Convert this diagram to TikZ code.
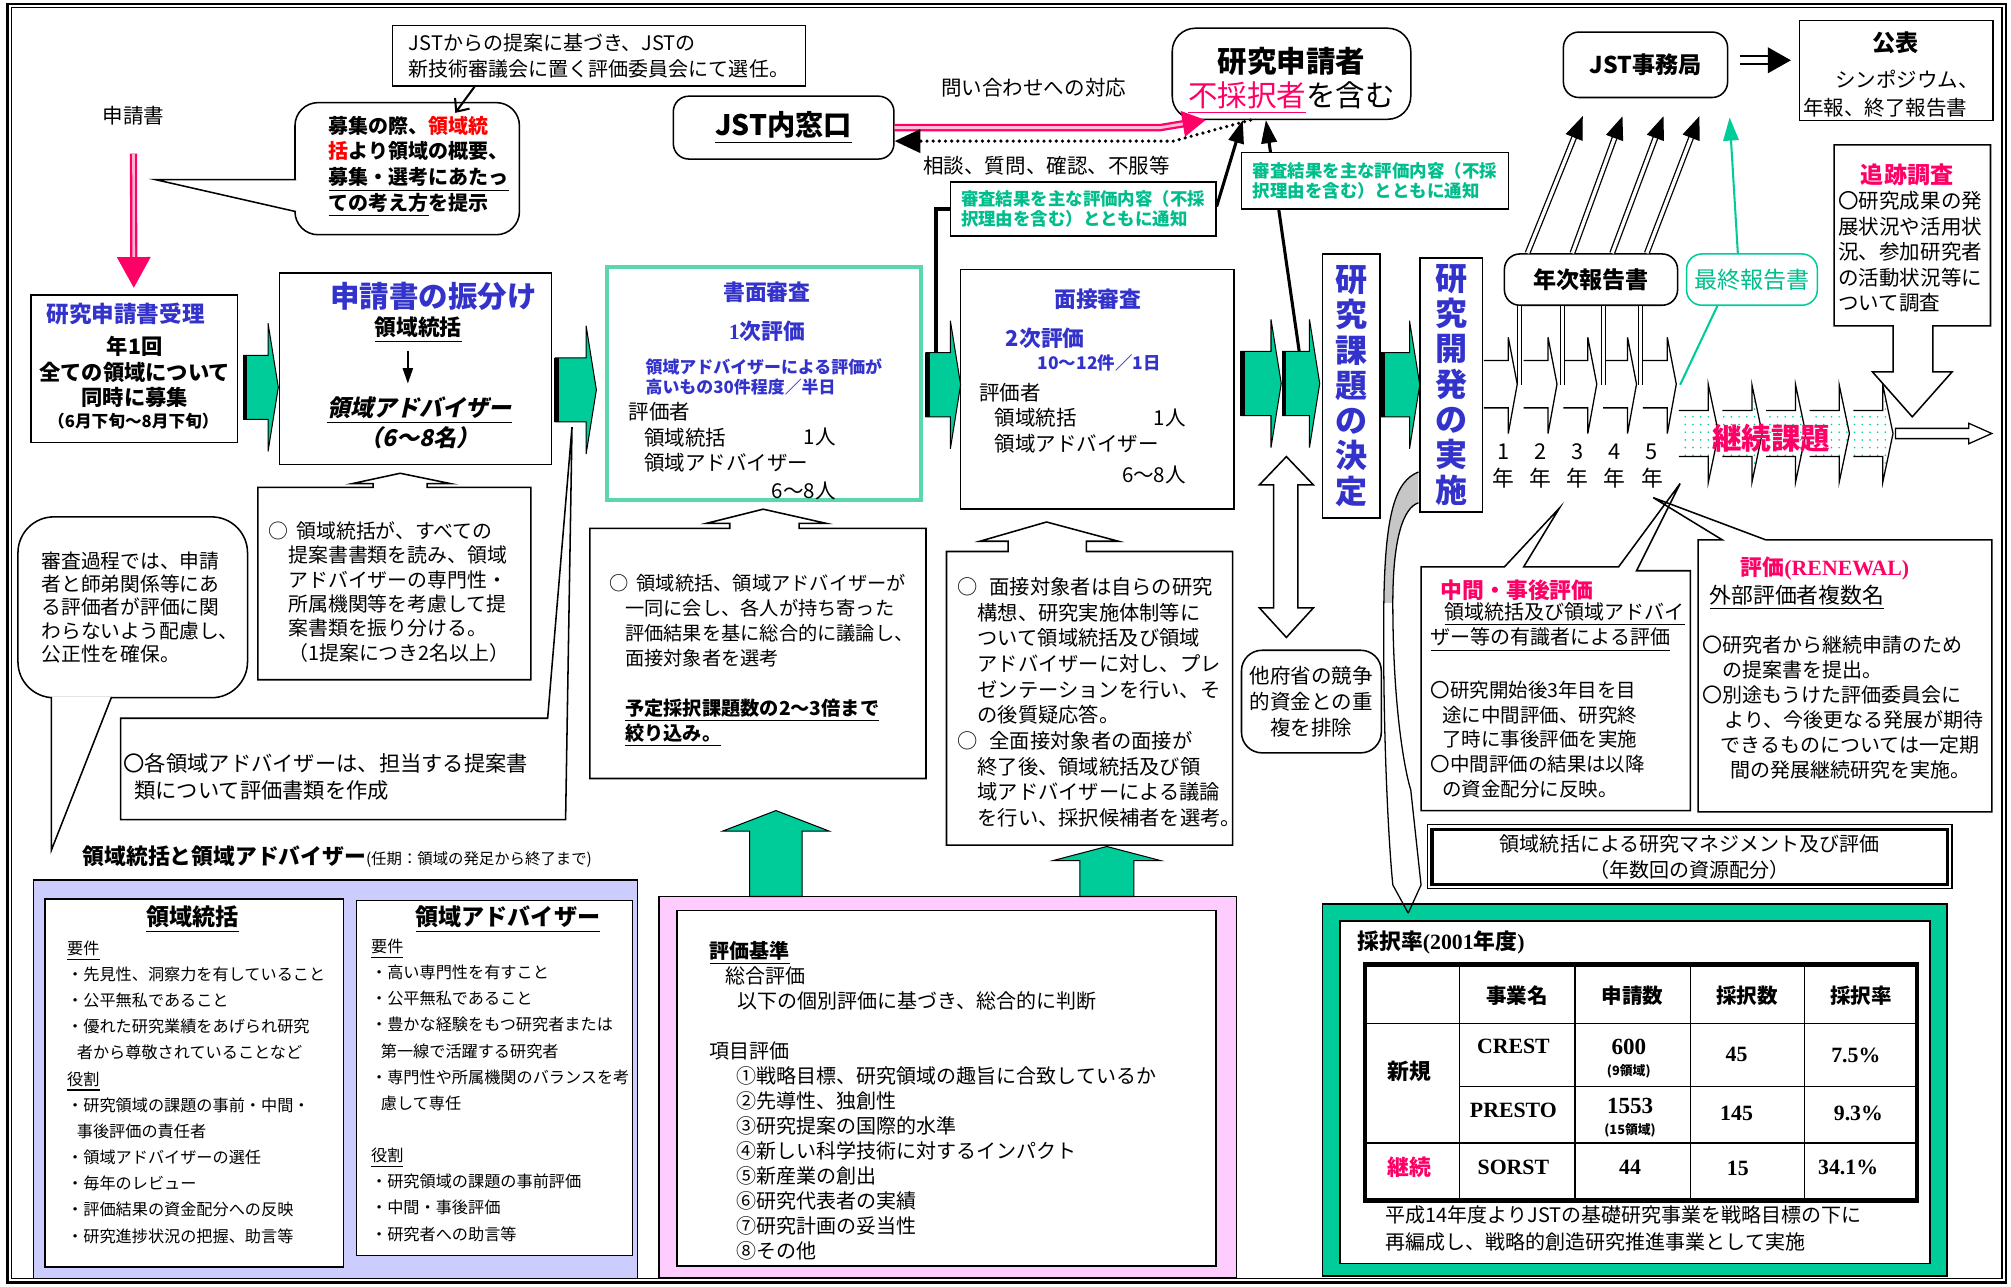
\documentclass[tikz,border=0pt]{standalone}
\usepackage{fontspec}
\setmainfont{Noto Sans CJK JP}
\newfontfamily\slantjp{Noto Sans CJK JP}[FakeSlant=0.22]
\newfontfamily\rmlat{Liberation Serif}
\usetikzlibrary{arrows.meta,patterns.meta}

\definecolor{grn}{RGB}{0,204,153}
\definecolor{tealtxt}{RGB}{0,190,140}
\definecolor{tealbrd}{RGB}{90,215,175}
\definecolor{bluec}{RGB}{51,51,204}
\definecolor{pinkc}{RGB}{255,0,102}
\definecolor{lav}{RGB}{204,204,255}
\definecolor{pinkbg}{RGB}{255,204,255}

\tikzset{
  box/.style={draw, line width=0.6pt, fill=white, inner sep=0pt},
  rbox/.style={box, rounded corners=6pt},
  sz/.style 2 args={minimum width=#1*0.5pt, minimum height=#2*0.5pt},
  txt/.style={inner sep=0pt, align=left, font=\fontsize{8}{9.75}\selectfont},
  ttl/.style={inner sep=0pt, text=bluec, font=\bfseries\fontsize{8.5}{10}\selectfont},
  bld/.style={inner sep=0pt, align=center, font=\bfseries\fontsize{8.5}{10}\selectfont},
  lavtxt/.style={inner sep=0pt, align=left, anchor=west, font=\fontsize{6.3}{10.2}\selectfont},
  numtxt/.style={inner sep=0pt, font=\rmlat\bfseries\fontsize{8.5}{10}\selectfont},
  blk/.style={fill=grn, draw=black, line width=0.4pt},
  wshape/.style={fill=white, draw=black, line width=0.6pt},
  dblarr/.style={double, double distance=1.3pt, line width=0.5pt, -{Triangle[width=7pt,length=9pt]}},
}

% green block arrow to the right: left x, tip x, centre y
\newcommand{\grnarr}[3]{%
  \filldraw[blk] (#1,#3-25) -- (#2-8,#3-25) -- (#2-8,#3-50) -- (#2,#3)
    -- (#2-8,#3+50) -- (#2-8,#3+25) -- (#1,#3+25) -- cycle;
  \draw[line width=1.8pt] (#1+1,#3-25) -- (#1+1,#3+25);}
% green block arrow upwards: centre x, shaft half, head half, tip y, head base y, foot y
\newcommand{\grnup}[6]{%
  \filldraw[blk] (#1-#2,#6) -- (#1-#2,#5) -- (#1-#3,#5) -- (#1,#4)
    -- (#1+#3,#5) -- (#1+#2,#5) -- (#1+#2,#6) -- cycle;}

\begin{document}
\begin{tikzpicture}[x=0.5pt,y=-0.5pt]
\useasboundingbox (0,0) rectangle (1568,1003);
% frame
\draw[line width=1pt] (6,3) rectangle (1564,1000);
\draw[line width=0.5pt] (9,6) rectangle (1561,997);

% bottom panels
\node[draw, fill=lav, line width=0.6pt, sz={471}{311}] (lavBg) at (261.5,841.5) {};
\node[box, sz={233}{287}] (toukatsuBox) at (151.5,844.5) {};
\node[box, sz={215}{277}] (advBox) at (385.5,840.5) {};
\node[draw, fill=pinkbg, line width=0.6pt, sz={450}{297}] (kijunBg) at (739,847.5) {};
\node[box, sz={420}{277}] (kijunBox) at (738,848.5) {};
\node[draw, fill=grn, line width=0.6pt, sz={487}{290}] (saitakuBg) at (1274.5,850) {};
\node[box, sz={460}{267}] (saitakuBox) at (1275,851.5) {};
\grnup{605}{20.5}{41.5}{632}{648}{699}
\grnup{863}{21}{42}{660}{671}{699}

% applications
\node[txt] (appl) at (104,90) {申請書};
\node[box, sz={322}{47}, align=left, font=\fontsize{7.8}{10}\selectfont] (note1) at (467,43.5) {JSTからの提案に基づき、JSTの\\新技術審議会に置く評価委員会にて選任。};
\node[rbox, rounded corners=9pt, sz={175}{103}] (callA) at (317.5,131.5) {};
\filldraw[wshape] (230.8,140) -- (121,140) -- (230.8,165);
\node[bld, align=left, anchor=west, font=\bfseries\fontsize{7.8}{10}\selectfont] (callAtxt) at (256,130) {募集の際、\textcolor{red}{領域統}\\\textcolor{red}{括}より領域の概要、\\\underline{募集・選考にあたっ}\\\underline{ての考え方}を提示};
\coordinate (callAtip) at (355,88);
\draw[line width=0.8pt, -{Straight Barb[width=7pt,length=4pt]}] ([xshift=-48.5pt]note1.south) -- (callAtip);

\node[box, sz={161}{115}] (recv) at (104.5,287.5) {};
\node[ttl, font=\bfseries\fontsize{8.8}{10}\selectfont] (recvT) at (98,245) {研究申請書受理};
\node[bld, font=\bfseries\fontsize{8.3}{10}\selectfont] (recvB) at (105,290) {年1回\\全ての領域について\\同時に募集};
\node[bld, font=\bfseries\fontsize{6.5}{8}\selectfont] (recvS) at (104,328) {（6月下旬～8月下旬）};
\draw[draw=pinkc, double=pinkc!30, double distance=1pt, line width=0.9pt, shorten <=11pt, shorten >=2.5pt, -{Triangle[width=13pt,length=12pt]}] (appl) -- (recv);

\node[box, sz={212}{149}] (huri) at (324,287.5) {};
\node[ttl, font=\bfseries\fontsize{11.5}{13}\selectfont] (huriT) at (338,231) {申請書の振分け};
\node[bld] (huriS) at (326,257) {\underline{領域統括}};
\node[bld, font=\slantjp\bfseries\fontsize{9}{10}\selectfont] (huriA) at (327,320) {\underline{領域アドバイザー}};
\node[bld, font=\slantjp\bfseries\fontsize{9}{10}\selectfont] (huriN) at (327,341) {（6～8名）};
\draw[line width=0.6pt, -{Triangle[width=4pt,length=6pt]}, shorten <=3pt, shorten >=5pt] ([xshift=-4pt]huriS.south) -- ([xshift=-4.5pt]huriA.north);

% document review
\node[box, draw=tealbrd, line width=1.6pt, sz={245}{182}] (shomen) at (595.5,299) {};
\node[ttl] (shoT) at (598,228) {書面審査};
\node[ttl] (sho1) at (598,258) {{\rmlat 1}次評価};
\node[inner sep=0pt, align=left, anchor=west, text=bluec, font=\bfseries\fontsize{6.6}{8}\selectfont] (shoN) at (503,294) {領域アドバイザーによる評価が\\高いもの30件程度／半日};
\node[txt, anchor=west] (shoE) at (490,321) {評価者};
\node[txt, anchor=west] (shoE1) at (502,341) {領域統括};
\node[txt, anchor=east] (shoE1n) at (652,341) {1人};
\node[txt, anchor=west] (shoE2) at (502,361) {領域アドバイザー};
\node[txt, anchor=east] (shoE2n) at (652,383) {6～8人};

% interview
\node[box, sz={213}{187}] (mensetsu) at (855.5,303.5) {};
\node[ttl] (menT) at (856,233) {面接審査};
\node[ttl] (men2) at (815,264) {2次評価};
\node[inner sep=0pt, text=bluec, font=\bfseries\fontsize{6.8}{8}\selectfont] (menN) at (857,283) {10～12件／1日};
\node[txt, anchor=west] (menE) at (763,306) {評価者};
\node[txt, anchor=west] (menE1) at (775,326) {領域統括};
\node[txt, anchor=east] (menE1n) at (925,326) {1人};
\node[txt, anchor=west] (menE2) at (775,346) {領域アドバイザー};
\node[txt, anchor=east] (menE2n) at (925,370) {6～8人};

% enquiries
\node[rbox, sz={172}{49}, font=\bfseries\fontsize{11}{12}\selectfont] (madoguchi) at (611,99.5) {\underline{JST内窓口}};
\node[rbox, rounded corners=9pt, sz={186}{71}] (shinsei) at (1007,57.5) {};
\node[bld, font=\bfseries\fontsize{11.5}{13}\selectfont] (shinT1) at (1007,48) {研究申請者};
\node[inner sep=0pt, font=\fontsize{11.5}{13}\selectfont] (shinT2) at (1007,76) {\textcolor{pinkc}{\underline{不採択者}}を含む};
\draw[draw=pinkc, double=pinkc!25, double distance=1.1pt, line width=0.9pt, -{Triangle[width=10pt,length=9pt]}] (madoguchi.east) -- ++(207,0) -- ([xshift=-33.5pt]shinsei.south);
\draw[line width=1.4pt, dash pattern=on 0pt off 2.4pt, line cap=round, -{Triangle[width=9pt,length=10pt]}] ([xshift=-16pt]shinsei.south) -- (915,110) -- ([yshift=-5.25pt]madoguchi.east);
\node[txt] (toi) at (806,68) {問い合わせへの対応};
\node[txt] (soudan) at (816,129) {相談、質問、確認、不服等};

% selection arrows
\grnarr{190}{217}{302}
\grnarr{433}{465}{304}
\grnarr{722}{749}{300}
\grnarr{968}{999}{299}
\grnarr{1000}{1029}{299}
\grnarr{1077}{1107}{300}

\coordinate (g3top) at (730,275);
\coordinate (g5top) at (1013,274);
\node[box, sz={207}{42}, align=left, text=tealtxt, font=\bfseries\fontsize{6.8}{8}\selectfont] (note2) at (844.5,163) {審査結果を主な評価内容（不採\\択理由を含む）とともに通知};
\draw[line width=1.6pt] (g3top) |- (note2.west);
\draw[line width=1.2pt, -{Triangle[width=6pt,length=9pt]}] ([yshift=1pt]note2.east) -- ([xshift=-19pt]shinsei.south);
\draw[line width=1.2pt, -{Triangle[width=6pt,length=9pt]}] (g5top) -- ([xshift=-10pt]shinsei.south);
\node[box, sz={208}{44}, align=left, text=tealtxt, font=\bfseries\fontsize{6.8}{8}\selectfont] (note3) at (1072,141) {審査結果を主な評価内容（不採\\択理由を含む）とともに通知};

\node[box, sz={45}{206}, align=center, text=bluec, font=\bfseries\fontsize{12.5}{13.75}\selectfont] (kettei) at (1053.5,301) {研\\究\\課\\題\\の\\決\\定};
\node[box, sz={49}{198}, align=center, text=bluec, font=\bfseries\fontsize{12.5}{13.75}\selectfont] (jisshi) at (1131.5,300) {研\\究\\開\\発\\の\\実\\施};

% years and continuation
\foreach \s in {1157,1188,1219,1250,1281}{
  \filldraw[wshape, line width=0.5pt] (\s,281) -- (\s+19,281) -- (\s+19,263) -- (\s+26,299.5) -- (\s+19,338) -- (\s+19,318) -- (\s,318);
}
\foreach \s in {1309,1343,1377,1411,1445}{
  \draw[line width=0.5pt, pattern={Dots[distance=3pt,radius=0.35pt]}, pattern color=grn] (\s,320) -- (\s+23,320) -- (\s+23,300) -- (\s+31,338) -- (\s+23,376) -- (\s+23,356) -- (\s,356);
}
\filldraw[wshape, line width=0.5pt] (1478,334) -- (1535,334) -- (1535,330) -- (1553,338) -- (1535,346) -- (1535,342) -- (1478,342) -- cycle;
\node[inner sep=0pt, text=pinkc, font=\bfseries\fontsize{11.5}{13}\selectfont] (keizoku) at (1381,342) {継続課題};
\foreach \x/\n in {1172/1,1201/2,1230/3,1259/4,1288/5}{
  \node[txt, font=\fontsize{8.5}{10}\selectfont] (yr\n) at (\x,352) {\n};
  \node[txt, font=\fontsize{8.5}{10}\selectfont] (nen\n) at (\x,373) {年};
}

% reports
\node[rbox, sz={135}{40}, font=\bfseries\fontsize{9}{10}\selectfont] (nenji) at (1240.5,218) {年次報告書};
\node[rbox, draw=grn, sz={102}{40}, text=tealtxt, font=\fontsize{9}{10}\selectfont] (saishu) at (1366,218) {最終報告書};
\node[rbox, sz={128}{51}, font=\bfseries\fontsize{9}{10}\selectfont] (jst) at (1283,50.5) {JST事務局};
\node[box, sz={151}{78}] (kohyo) at (1478.5,55) {};
\node[bld, font=\bfseries\fontsize{9}{10}\selectfont] (kohyoT) at (1478,33) {公表};
\node[txt] (kohyo1) at (1487,62) {シンポジウム、};
\node[txt] (kohyo2) at (1470,84) {年報、終了報告書};
\foreach \x in {1185,1218,1250,1279}{
  \draw[double, double distance=1.2pt, line width=0.4pt] (\x,300) -- (\x,300 |- nenji.south);
}
\foreach \a/\b in {-24.75/-21.65,-7.25/-6.4,8.25/9.65,21.75/23.7}{
  \draw[dblarr, shorten >=7.5pt] ([xshift=\a pt]nenji.north) -- ([xshift=\b pt]jst.south);
}
\coordinate (y5tip) at (1310,300);
\draw[grn, line width=0.8pt] (y5tip) -- ([xshift=-13.5pt]saishu.south);
\draw[grn, line width=0.8pt, -{Triangle[width=6pt,length=9pt]}] ([xshift=-5.5pt]saishu.north) -- ([xshift=0.5pt,yshift=-7.5pt]jst.south east);
\draw[line width=0.7pt, double, double distance=2.5pt, -{Triangle[width=10pt,length=9pt]}] ([xshift=4.5pt,yshift=1.75pt]jst.east) -- ([xshift=-3pt,yshift=4pt]kohyo.west);

% follow-up survey
\filldraw[wshape] (1430,113) -- (1552,113) -- (1552,254) -- (1507,254) -- (1507,290) -- (1522,290) -- (1491,325) -- (1460,290) -- (1476,290) -- (1476,254) -- (1430,254) -- cycle;
\node[bld, text=pinkc, font=\bfseries\fontsize{9}{10}\selectfont] (tsuiT) at (1487,136) {追跡調査};
\node[txt, anchor=west, font=\fontsize{8}{9.9}\selectfont] (tsuiB) at (1433,196.5) {〇研究成果の発\\展状況や活用状\\況、参加研究者\\の活動状況等に\\ついて調査};

% overlap with other ministries
\filldraw[wshape] (1003,356) -- (1024,378) -- (1012,378) -- (1012,474) -- (1024,474) -- (1003,497) -- (982,474) -- (993,474) -- (993,378) -- (982,378) -- cycle;
\node[rbox, rounded corners=8pt, sz={109}{80}, align=center, font=\fontsize{8}{10.25}\selectfont] (tafusho) at (1022.5,547) {他府省の競争\\的資金との重\\複を排除};

% curved pointer to the table
\fill[gray!45] (1106,368) .. controls (1088,375) and (1080,400) .. (1079,470) -- (1086,470) .. controls (1086,420) and (1094,396) .. (1106,392) -- cycle;
\draw[line width=0.5pt] (1106,368) .. controls (1088,375) and (1080,400) .. (1079,470) .. controls (1078,560) and (1082,650) .. (1086,690) -- (1098,712);
\draw[line width=0.5pt] (1106,392) .. controls (1094,396) and (1086,420) .. (1086,470) .. controls (1086,550) and (1095,600) .. (1100,616) -- (1108,690) -- (1098,712);

% evaluations
\path[fill=white] (1108,442) -- (1173,442) -- (1216,396) -- (1188,442) -- (1262,442) -- (1310,377) -- (1276,445) -- (1318,445) -- (1318,632) -- (1108,632) -- cycle;
\path[fill=white] (1324,421) -- (1343,421) -- (1289,388) -- (1377,421) -- (1553,421) -- (1553,633) -- (1324,633) -- cycle;
\draw[line width=0.6pt] (1108,442) -- (1173,442) -- (1216,396) -- (1188,442) -- (1262,442) -- (1310,377) -- (1276,445) -- (1318,445) -- (1318,632) -- (1108,632) -- cycle;
\draw[line width=0.6pt] (1324,421) -- (1343,421) -- (1289,388) -- (1377,421) -- (1553,421) -- (1553,633) -- (1324,633) -- cycle;
\node[bld, text=pinkc] (chukanT) at (1183,460) {中間・事後評価};
\node[txt, anchor=west, font=\fontsize{7.8}{10}\selectfont] (chukanS) at (1115,489) {\hspace*{0.7em}\underline{領域統括及び領域アドバイ}\\\underline{ザー等の有識者による評価}};
\node[txt, anchor=west, font=\fontsize{7.6}{9.6}\selectfont] (chukanB) at (1115,576.5) {〇研究開始後3年目を目\\\hspace*{0.6em}途に中間評価、研究終\\\hspace*{0.6em}了時に事後評価を実施\\〇中間評価の結果は以降\\\hspace*{0.6em}の資金配分に反映。};
\node[bld, text=pinkc] (renT) at (1423,443) {評価{\rmlat (RENEWAL)}};
\node[txt, font=\fontsize{8.5}{10}\selectfont] (renS) at (1401,466) {\underline{外部評価者複数名}};
\node[txt, anchor=west, font=\fontsize{7.8}{9.7}\selectfont] (renB) at (1327,551.5) {〇研究者から継続申請のため\\\hspace*{1em}の提案書を提出。\\〇別途もうけた評価委員会に\\\hspace*{1.1em}より、今後更なる発展が期待\\\hspace*{0.9em}できるものについては一定期\\\hspace*{1.4em}間の発展継続研究を実施。};

\node[draw, line width=0.5pt, fill=white, sz={409}{50}, align=center, font=\fontsize{7.8}{10}\selectfont] (mgmt) at (1317.5,668) {領域統括による研究マネジメント及び評価\\（年数回の資源配分）};
\draw[line width=1.3pt] ([shift={(2pt,-2pt)}]mgmt.north west) rectangle ([shift={(-2pt,2pt)}]mgmt.south east);

% adoption table
\node[bld, anchor=west] (saitakuT) at (1058,735) {採択率{\rmlat (2001}年度{\rmlat )}};
\draw[line width=1.6pt] (1064,752) rectangle (1495,936);
\draw[line width=0.6pt] (1138,752) -- (1138,936) (1228,752) -- (1228,936) (1318,752) -- (1318,936) (1407,752) -- (1407,936)
  (1064,798) -- (1495,798) (1138,847) -- (1495,847) (1064,891) -- (1495,891);
\node[bld, font=\bfseries\fontsize{8}{10}\selectfont] (hJigyo) at (1183,776) {事業名};
\node[bld, font=\bfseries\fontsize{8}{10}\selectfont] (hShinsei) at (1273,776) {申請数};
\node[bld, font=\bfseries\fontsize{8}{10}\selectfont] (hSaiSu) at (1362,776) {採択数};
\node[bld, font=\bfseries\fontsize{8}{10}\selectfont] (hSaiRitsu) at (1451,776) {採択率};
\node[bld] (shinki) at (1099,835) {新規};
\node[bld, text=pinkc] (keizokuRow) at (1099,910) {継続};
\node[numtxt] (crest) at (1180,816) {CREST};
\node[numtxt, font=\rmlat\bfseries\fontsize{9}{10}\selectfont] (crestA) at (1270,816) {600};
\node[bld, font=\bfseries\fontsize{5}{6}\selectfont] (crestR) at (1270,835) {(9領域)};
\node[numtxt] (crestS) at (1354,822) {45};
\node[numtxt] (crestP) at (1447,823) {7.5\%};
\node[numtxt] (presto) at (1180,866) {PRESTO};
\node[numtxt, font=\rmlat\bfseries\fontsize{9}{10}\selectfont] (prestoA) at (1271,862) {1553};
\node[bld, font=\bfseries\fontsize{5}{6}\selectfont] (prestoR) at (1271,881) {(15領域)};
\node[numtxt] (prestoS) at (1354,868) {145};
\node[numtxt] (prestoP) at (1449,868) {9.3\%};
\node[numtxt] (sorst) at (1180,910) {SORST};
\node[numtxt] (sorstA) at (1271,910) {44};
\node[numtxt] (sorstS) at (1355,911) {15};
\node[numtxt] (sorstP) at (1441,910) {34.1\%};
\node[txt, anchor=west, font=\fontsize{7.8}{10.5}\selectfont] (saitakuF) at (1080,957.5) {平成14年度よりJSTの基礎研究事業を戦略目標の下に\\再編成し、戦略的創造研究推進事業として実施};

% notes on the left
\node[rbox, rounded corners=14pt, sz={179}{141}] (shinsaCall) at (103.5,473.5) {};
\filldraw[wshape] (40,543.4) -- (40,663) -- (87,543.4);
\node[txt, anchor=west, font=\fontsize{7.7}{9.1}\selectfont] (shinsaTxt) at (32,473.5) {審査過程では、申請\\者と師弟関係等にあ\\る評価者が評価に関\\わらないよう配慮し、\\公正性を確保。};
\filldraw[wshape] (201,380) -- (291,380) -- (291,377) -- (275,377) -- (312,369) -- (351,377) -- (333,377) -- (333,380) -- (414,380) -- (414,530) -- (201,530) -- cycle;
\node[txt, anchor=west, font=\fontsize{7.75}{9.5}\selectfont] (furiTxt) at (209,461.5) {○\hspace*{0.4em}領域統括が、すべての\\\hspace*{1em}提案書書類を読み、領域\\\hspace*{1em}アドバイザーの専門性・\\\hspace*{1em}所属機関等を考慮して提\\\hspace*{1em}案書類を振り分ける。\\\hspace*{1em}（1提案につき2名以上）};
\filldraw[wshape] (94,560) -- (427,560) -- (446,333) -- (441,639) -- (94,639) -- cycle;
\node[txt, anchor=west, font=\fontsize{8.3}{10.5}\selectfont] (kakuTxt) at (96,605.5) {〇各領域アドバイザーは、担当する提案書\\\hspace*{0.5em}類について評価書類を作成};
\filldraw[wshape] (460,412) -- (569,412) -- (569,408) -- (551,408) -- (595,397) -- (644,408) -- (623,408) -- (623,412) -- (722,412) -- (722,607) -- (460,607) -- cycle;
\node[txt, anchor=west, font=\fontsize{7.5}{9.75}\selectfont] (shoNote) at (475,515) {○\hspace*{0.4em}領域統括、領域アドバイザーが\\\hspace*{0.8em}一同に会し、各人が持ち寄った\\\hspace*{0.8em}評価結果を基に総合的に議論し、\\\hspace*{0.8em}面接対象者を選考\\[9.75pt]\hspace*{0.8em}\textbf{\underline{予定採択課題数の2～3倍まで}}\\\hspace*{0.8em}\textbf{\underline{絞り込み。}}};
\filldraw[wshape] (738,430) -- (786,430) -- (786,422) -- (764,422) -- (816,407) -- (872,422) -- (847,422) -- (847,430) -- (961,430) -- (961,659) -- (738,659) -- cycle;
\node[txt, anchor=west, font=\fontsize{7.9}{10}\selectfont] (menNote) at (746,547.5) {○\hspace*{0.6em}面接対象者は自らの研究\\\hspace*{1em}構想、研究実施体制等に\\\hspace*{1em}ついて領域統括及び領域\\\hspace*{1em}アドバイザーに対し、プレ\\\hspace*{1em}ゼンテーションを行い、そ\\\hspace*{1em}の後質疑応答。\\○\hspace*{0.6em}全面接対象者の面接が\\\hspace*{1em}終了後、領域統括及び領\\\hspace*{1em}域アドバイザーによる議論\\\hspace*{1em}を行い、採択候補者を選考。};

% supervisor and advisers
\node[inner sep=0pt, anchor=west] (ryoikiLbl) at (64,668) {{\bfseries\fontsize{8.5}{10}\selectfont 領域統括と領域アドバイザー}{\fontsize{6}{7}\selectfont (任期：領域の発足から終了まで)}};
\node[bld, font=\bfseries\fontsize{9}{10}\selectfont] (toukatsuT) at (150,717) {\underline{領域統括}};
\node[lavtxt] (toukatsuB) at (52,851.5) {\underline{要件}\\・先見性、洞察力を有していること\\・公平無私であること\\・優れた研究業績をあげられ研究\\\hspace*{0.6em}者から尊敬されていることなど\\\underline{役割}\\・研究領域の課題の事前・中間・\\\hspace*{0.6em}事後評価の責任者\\・領域アドバイザーの選任\\・毎年のレビュー\\・評価結果の資金配分への反映\\・研究進捗状況の把握、助言等};
\node[bld, font=\bfseries\fontsize{9}{10}\selectfont] (advT) at (396,717) {\underline{領域アドバイザー}};
\node[lavtxt] (advB) at (289,850) {\underline{要件}\\・高い専門性を有すこと\\・公平無私であること\\・豊かな経験をもつ研究者または\\\hspace*{0.6em}第一線で活躍する研究者\\・専門性や所属機関のバランスを考\\\hspace*{0.6em}慮して専任\\[10.2pt]\underline{役割}\\・研究領域の課題の事前評価\\・中間・事後評価\\・研究者への助言等};

% criteria
\node[txt, anchor=west, font=\fontsize{7.8}{9.75}\selectfont] (kijun) at (553,858) {\textbf{\underline{評価基準}}\\\hspace*{0.8em}総合評価\\\hspace*{1.4em}以下の個別評価に基づき、総合的に判断\\[9.75pt]項目評価\\\hspace*{1.35em}①戦略目標、研究領域の趣旨に合致しているか\\\hspace*{1.35em}②先導性、独創性\\\hspace*{1.35em}③研究提案の国際的水準\\\hspace*{1.35em}④新しい科学技術に対するインパクト\\\hspace*{1.35em}⑤新産業の創出\\\hspace*{1.35em}⑥研究代表者の実績\\\hspace*{1.35em}⑦研究計画の妥当性\\\hspace*{1.35em}⑧その他};
\end{tikzpicture}
\end{document}
